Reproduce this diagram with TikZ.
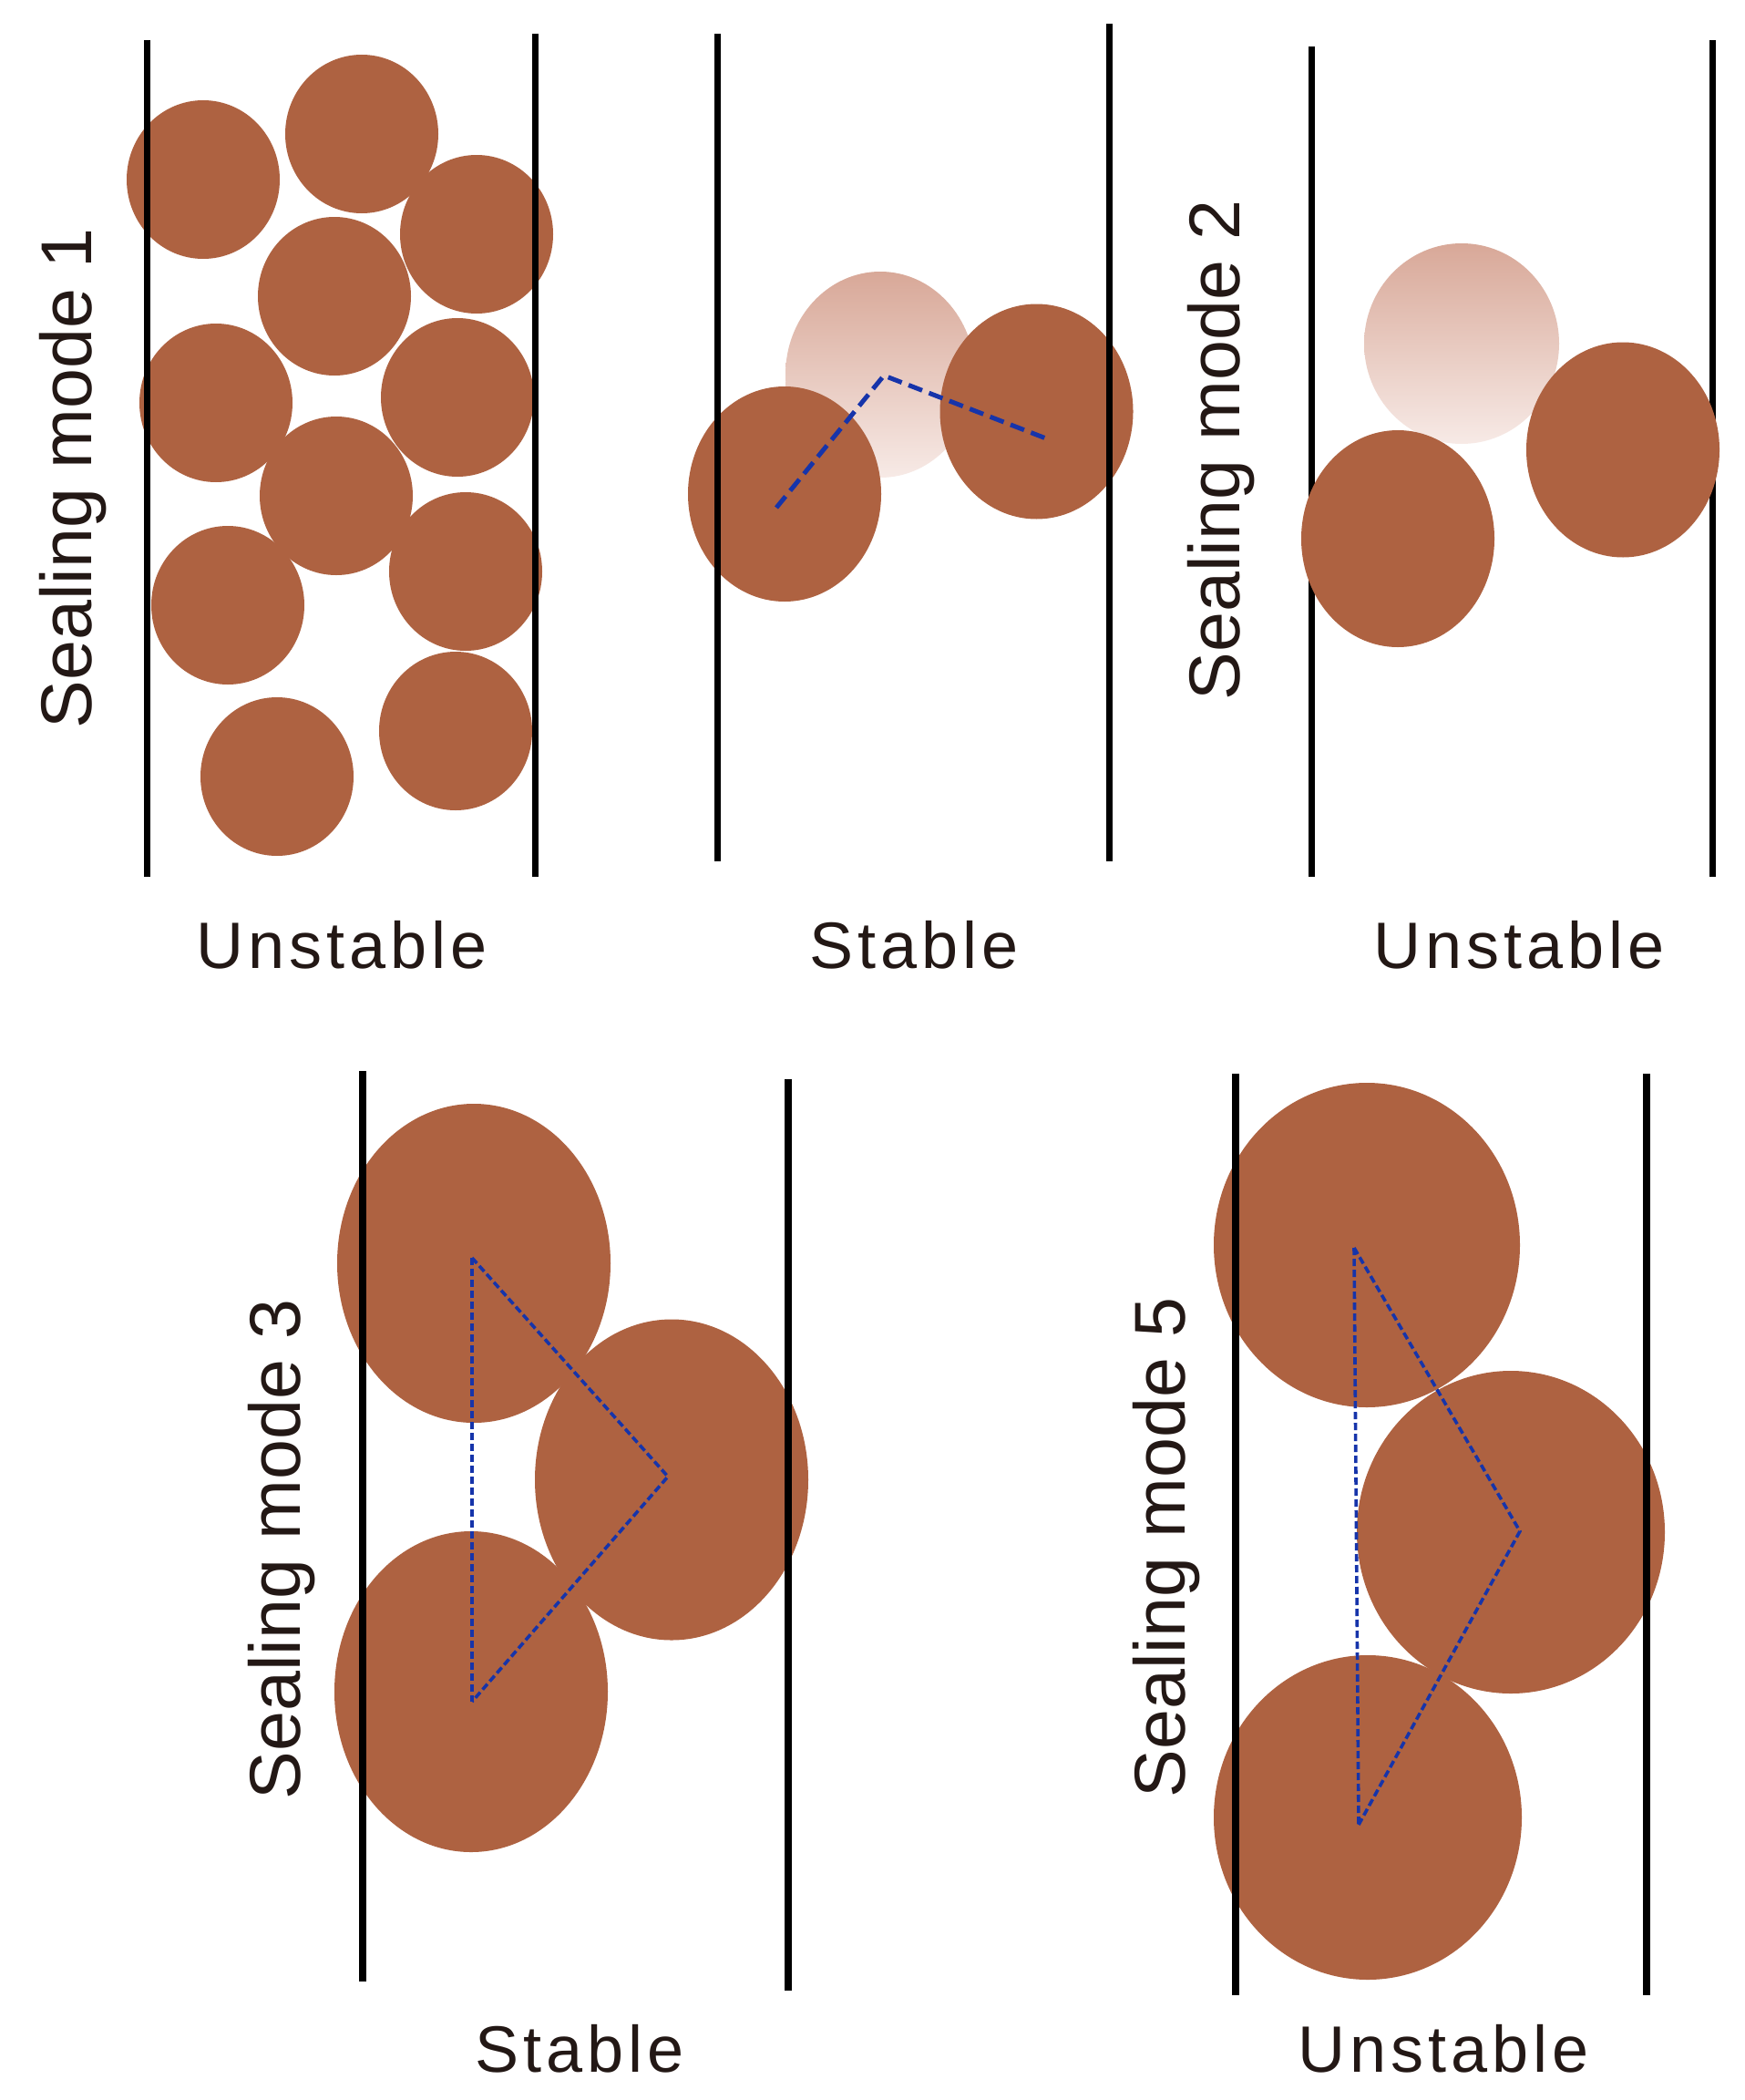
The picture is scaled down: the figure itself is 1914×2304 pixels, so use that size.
\documentclass[tikz,border=0pt]{standalone}
\usepackage{fontspec}
\setmainfont{Liberation Sans}
\usetikzlibrary{calc}
\definecolor{grain}{RGB}{174,98,65}
\definecolor{fadetop}{RGB}{216,168,152}
\definecolor{fadebot}{RGB}{247,234,230}
\definecolor{linkblue}{RGB}{22,52,170}
\definecolor{txt}{RGB}{35,24,21}
\tikzset{
  wall/.style={line width=7.5pt, black},
  grainfill/.style={fill=grain, draw=none},
  fadegrain/.style={top color=fadetop, bottom color=fadebot, draw=none},
  linkA/.style={linkblue, line width=5pt, dash pattern=on 16pt off 8pt},
  linkB/.style={linkblue, line width=3.6pt, dash pattern=on 8pt off 4pt},
  vlabel/.style={rotate=90, anchor=base, text=txt, font=\fontsize{79}{90}\selectfont, inner sep=0pt},
  hlabel/.style={anchor=base, text=txt, font=\fontsize{72}{84}\selectfont\addfontfeature{LetterSpace=7}, inner sep=0pt}
}
\begin{document}
\begin{tikzpicture}[x=1pt,y=-1pt]
\useasboundingbox (0,0) rectangle (1914,2304);
\fill[white] (0,0) rectangle (1914,2304);

% ---------------- Panel 1 ----------------
\foreach \cx/\cy in {223/197, 397/147, 523/257, 367/325, 237/442, 502/436, 369/544, 250/664, 511/627, 304/852, 500/802}
  \fill[grainfill] (\cx,\cy) ellipse [x radius=84, y radius=87];
\draw[wall] (161.5,44) -- (161.5,962);
\draw[wall] (587.5,37) -- (587.5,962);
\node[vlabel] (lab1) at (100,525) {Sealing mode 1};
\node[hlabel] (st1) at (375,1062) {Unstable};

% ---------------- Panel 2 ----------------
\shade[fadegrain] (966,411) ellipse [x radius=104, y radius=113];
\fill[grainfill] (861,542) ellipse [x radius=106, y radius=118];
\fill[grainfill] (1137.5,451.5) ellipse [x radius=106, y radius=118];
\draw[wall] (787.5,37) -- (787.5,945);
\draw[wall] (1217.5,26) -- (1217.5,945);
\coordinate (p2a) at (852,557);
\coordinate (p2b) at (970,412);
\coordinate (p2c) at (1153,483);
\draw[linkA] (p2a) -- (p2b) -- (p2c);
\node[hlabel] (st2) at (1003,1062) {Stable};

% ---------------- Panel 3 ----------------
\draw[wall] (1439.5,51) -- (1439.5,962);
\draw[wall] (1879.5,44) -- (1879.5,962);
\shade[fadegrain] (1604,377) ellipse [x radius=107, y radius=110];
\fill[grainfill] (1534,591) ellipse [x radius=106, y radius=119];
\fill[grainfill] (1781,493.5) ellipse [x radius=106, y radius=118];
\node[vlabel] (lab2) at (1360,494) {Sealing mode 2};
\node[hlabel] (st3) at (1667,1062) {Unstable};

% ---------------- Panel 4 ----------------
\fill[grainfill] (520,1386) ellipse [x radius=150, y radius=175];
\fill[grainfill] (737,1623.5) ellipse [x radius=150, y radius=176];
\fill[grainfill] (517,1856) ellipse [x radius=150, y radius=176];
\draw[wall] (398,1175) -- (398,2174);
\draw[wall] (865,1184) -- (865,2184);
\coordinate (p4a) at (518,1380);
\coordinate (p4b) at (733,1620);
\coordinate (p4c) at (518,1867);
\draw[linkB] (p4a) -- (p4c);
\draw[linkB] (p4a) -- (p4b) -- (p4c);
\node[vlabel] (lab3) at (329,1700) {Sealing mode 3};
\node[hlabel] (st4) at (636,2273) {Stable};

% ---------------- Panel 5 ----------------
\fill[grainfill] (1500,1366) ellipse [x radius=168, y radius=178];
\fill[grainfill] (1658,1681) ellipse [x radius=169, y radius=177];
\fill[grainfill] (1501,1994) ellipse [x radius=169, y radius=178];
\draw[wall] (1356,1178) -- (1356,2189);
\draw[wall] (1807,1178) -- (1807,2189);
\coordinate (p5a) at (1486,1369);
\coordinate (p5b) at (1668,1680);
\coordinate (p5c) at (1491,2002);
\draw[linkB] (p5a) -- (p5c);
\draw[linkB] (p5a) -- (p5b) -- (p5c);
\node[vlabel] (lab5) at (1300,1698) {Sealing mode 5};
\node[hlabel] (st5) at (1584,2273) {Unstable};
\end{tikzpicture}
\end{document}
